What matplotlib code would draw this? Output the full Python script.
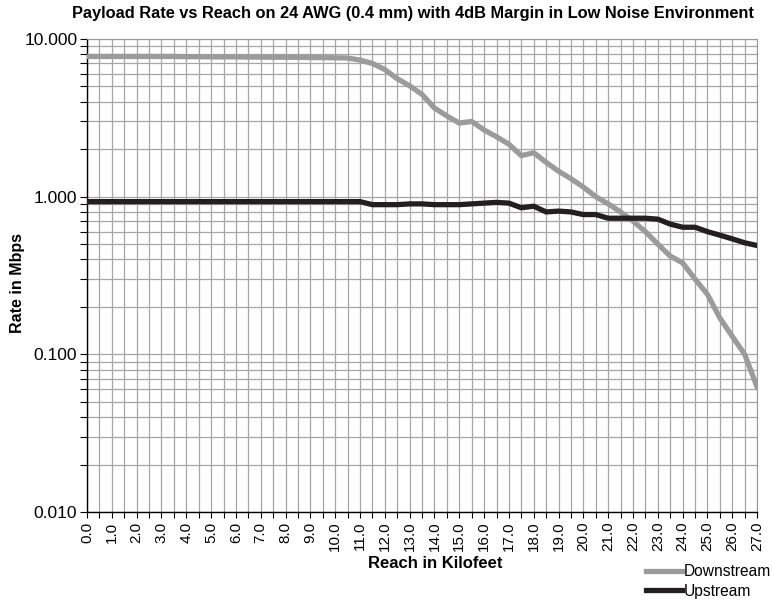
import matplotlib
matplotlib.use("Agg")
import matplotlib.pyplot as plt
from matplotlib.ticker import MultipleLocator, FixedLocator, LogLocator, NullFormatter

plt.rcParams['font.family'] = ['Liberation Sans', 'DejaVu Sans']

# reach in kilofeet, every 0.5 kft
reach = [i * 0.5 for i in range(55)]

downstream = [7.75, 7.75, 7.75, 7.75, 7.75, 7.75, 7.75, 7.75, 7.72, 7.72,
              7.70, 7.70, 7.70, 7.68, 7.68, 7.66, 7.66, 7.65, 7.63, 7.62,
              7.60, 7.58, 7.35, 7.00, 6.40, 5.60, 5.05, 4.45, 3.65, 3.25,
              2.93, 3.00, 2.65, 2.40, 2.15, 1.82, 1.90, 1.65, 1.45, 1.30,
              1.15, 1.00, 0.90, 0.80, 0.70, 0.60, 0.50, 0.42, 0.38, 0.30,
              0.24, 0.17, 0.13, 0.10, 0.062]

upstream = [0.93, 0.93, 0.93, 0.93, 0.93, 0.93, 0.93, 0.93, 0.93, 0.93,
            0.93, 0.93, 0.93, 0.93, 0.93, 0.93, 0.93, 0.93, 0.93, 0.93,
            0.93, 0.93, 0.93, 0.89, 0.89, 0.89, 0.90, 0.90, 0.89, 0.89,
            0.89, 0.90, 0.91, 0.92, 0.91, 0.85, 0.87, 0.80, 0.81, 0.80,
            0.77, 0.77, 0.73, 0.73, 0.73, 0.73, 0.72, 0.67, 0.64, 0.64,
            0.60, 0.57, 0.54, 0.51, 0.49]

xlabels = ['%.1f' % v for v in range(28)]
ylabels = ['0.010', '0.100', '1.000', '10.000']


def main():
    fig = plt.figure(figsize=(7.72, 6.02), dpi=100)
    ax = fig.add_axes([0.1127, 0.1495, 0.868, 0.7857])

    ax.plot(reach, downstream, color='#9b9b9b', lw=3.8, label='Downstream',
            solid_joinstyle='round', zorder=3)
    ax.plot(reach, upstream, color='#231f20', lw=3.8, label='Upstream',
            solid_joinstyle='round', zorder=4)

    ax.set_yscale('log')
    ax.set_ylim(0.01, 10)
    ax.set_xlim(0, 27)

    ax.yaxis.set_major_locator(FixedLocator([0.01, 0.1, 1, 10]))
    ax.set_yticklabels(ylabels, fontsize=12.5)
    ax.yaxis.set_minor_locator(LogLocator(base=10, subs=range(2, 10)))
    ax.yaxis.set_minor_formatter(NullFormatter())

    ax.set_xticks(range(28))
    ax.set_xticklabels(xlabels, rotation=90, fontsize=11)
    ax.xaxis.set_minor_locator(MultipleLocator(0.5))

    ax.tick_params(which='both', direction='out', length=5, width=0.8, color='black')
    ax.tick_params(axis='x', which='both', length=4, pad=3)
    ax.tick_params(axis='y', pad=2)

    ax.grid(True, which='both', color='#a6a6a6', lw=0.9)
    ax.set_axisbelow(True)

    for s in ['top', 'right']:
        ax.spines[s].set_color('#999999')
    for s in ['left', 'bottom']:
        ax.spines[s].set_color('black')
        ax.spines[s].set_linewidth(1.0)

    fig.text(0.535, 0.977,
             'Payload Rate vs Reach on 24 AWG (0.4 mm) with 4dB Margin in Low Noise Environment',
             fontsize=11.8, fontweight='bold', ha='center', va='center')
    ax.set_xlabel('Reach in Kilofeet', fontsize=12, fontweight='bold')
    ax.xaxis.set_label_coords(0.519, -0.092)
    ax.set_ylabel('Rate in Mbps', fontsize=11.5, fontweight='bold')
    ax.yaxis.set_label_coords(-0.0925, 0.484)

    ax.legend(loc='upper left', bbox_to_anchor=(0.823, -0.094), frameon=False,
              fontsize=11.2, handlelength=2.3, handletextpad=0.1,
              labelspacing=0.3, borderpad=0)

    fig.savefig('out.png', dpi=100)


if __name__ == '__main__':
    main()
